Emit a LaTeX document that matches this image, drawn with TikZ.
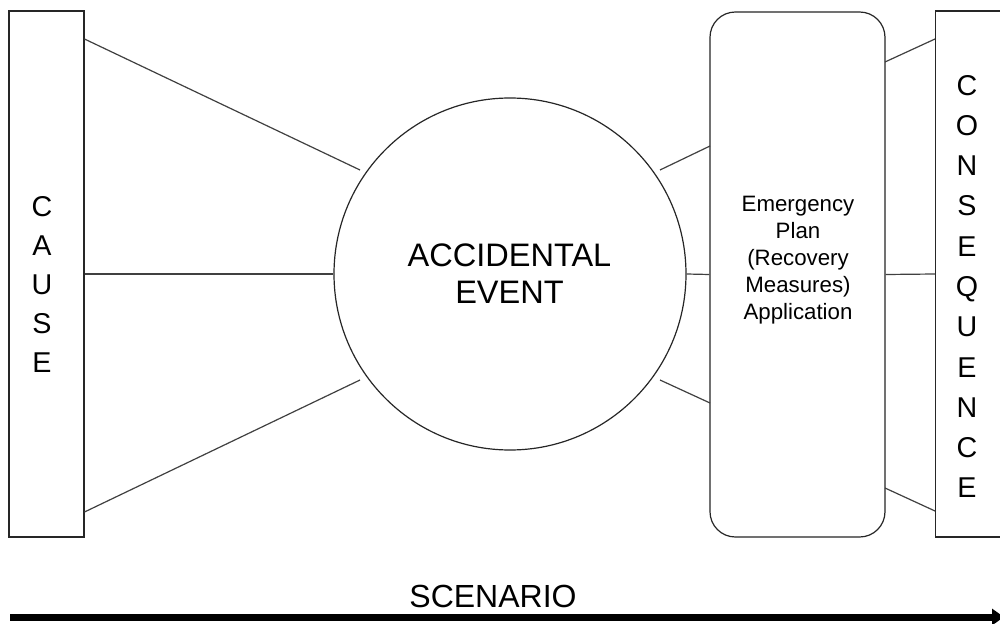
\documentclass[tikz,border=0pt]{standalone}
\usepackage{fontspec}
\setmainfont{Liberation Sans}
\usetikzlibrary{arrows.meta,calc}
\begin{document}
\begin{tikzpicture}[x=0.75pt,y=-0.75pt,
  frame/.style={draw=black!85,line width=0.9pt,inner sep=0pt},
  link/.style={draw=black!75,line width=0.9pt},
  bigtxt/.style={font=\fontsize{24.4pt}{27.75pt}\selectfont,align=center,inner sep=0pt},
  lettxt/.style={font=\fontsize{21.5pt}{29.25pt}\selectfont,align=center,inner sep=0pt},
  contxt/.style={font=\fontsize{21.5pt}{30.2pt}\selectfont,align=center,inner sep=0pt},
  smalltxt/.style={font=\fontsize{16.7pt}{20.25pt}\selectfont,align=center,inner sep=0pt}]
\useasboundingbox (0,0) rectangle (1000,624);
\fill[white] (0,0) rectangle (1000,624);
% boxes
\node[frame,minimum width=56.25pt,minimum height=394.5pt] (cause) at (46.5,274) {};
\node[frame,circle,minimum size=264pt] (event) at (510,274) {};
\node[frame,rounded corners=19pt,minimum width=131.25pt,minimum height=393.75pt] (plan) at (797.5,274.5) {};
\node[frame,minimum width=52.5pt,minimum height=394.5pt,anchor=west] (cons) at (935,274) {};
% texts
\node[lettxt] (causetxt) at (42,284) {C\\A\\U\\S\\E};
\node[bigtxt] (eventtxt) at (509.5,273.5) {ACCIDENTAL\\EVENT};
\node[smalltxt] (plantxt) at (798,260) {Emergency\\Plan\\(Recovery\\Measures)\\Application};
\node[contxt] (constxt) at (967,286.5) {C\\O\\N\\S\\E\\Q\\U\\E\\N\\C\\E};
\node[font=\fontsize{24pt}{28pt}\selectfont,inner sep=0pt] (scen) at (493,596) {SCENARIO};
% connector end points
\coordinate (a1) at (84.5,39);
\coordinate (a2) at (360,170);
\coordinate (b1) at (84.5,512);
\coordinate (b2) at (360,380);
\coordinate (c1) at (660,170);
\coordinate (c2) at (710,146);
\coordinate (d1) at (660,380);
\coordinate (d2) at (710,403);
\coordinate (e1) at (885,62);
\coordinate (e2) at (935,39);
\coordinate (f1) at (885,488);
\coordinate (f2) at (935,511);
% connectors
\draw[link] (a1) -- (a2);
\draw[link] (cause.east) -- (event.west);
\draw[link] (b1) -- (b2);
\draw[link] (c1) -- (c2);
\draw[link] (event.east) -- (plan.west);
\draw[link] (d1) -- (d2);
\draw[link] (e1) -- (e2);
\draw[link] (plan.east) -- (cons.west);
\draw[link] (f1) -- (f2);
% scenario arrow
\coordinate (s0) at (10,617);
\coordinate (s1) at (1004,617);
\draw[line width=5.25pt,-{Triangle[length=9pt 0 0,width=12pt 0 0]}] (s0) -- (s1);
\end{tikzpicture}
\end{document}
